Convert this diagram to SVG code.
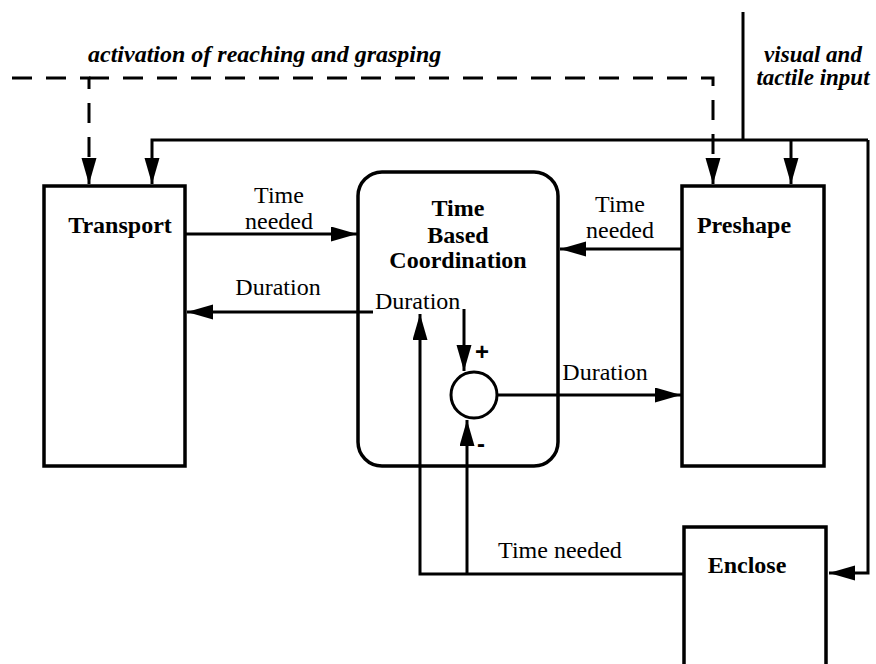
<svg xmlns="http://www.w3.org/2000/svg" width="876" height="664" viewBox="0 0 876 664">
<defs>
<marker id="ah" markerUnits="userSpaceOnUse" markerWidth="27" markerHeight="16" refX="26" refY="7.5" orient="auto">
<path d="M0,0 L26,7.5 L0,15 Z" fill="#000"/>
</marker>
<style>
.box{fill:#fff;stroke:#000;stroke-width:3.5}
.ln{fill:none;stroke:#000;stroke-width:3}
.dash{fill:none;stroke:#000;stroke-width:3;stroke-dasharray:20 14}
.t{font-family:"Liberation Serif",serif;font-size:24px;fill:#000}
.b{font-family:"Liberation Serif",serif;font-size:24px;font-weight:bold;fill:#000}
.bi{font-family:"Liberation Serif",serif;font-size:24px;font-weight:bold;font-style:italic;fill:#000}
.s{font-family:"Liberation Sans",sans-serif;font-size:24px;font-weight:bold;fill:#000}
</style>
</defs>
<rect width="876" height="664" fill="#fff"/>
<g id="connectors">
<path class="dash" d="M12,78 H89 V184" marker-end="url(#ah)"/>
<path class="dash" d="M89,78 H713 V184" marker-end="url(#ah)"/>
<path class="ln" d="M743,12 V140"/>
<path class="ln" d="M868,140 H152 V184" marker-end="url(#ah)"/>
<path class="ln" d="M791,140 V184" marker-end="url(#ah)"/>
<path class="ln" d="M868,140 V573 H829" marker-end="url(#ah)"/>
<path class="ln" d="M185,234 H357" marker-end="url(#ah)"/>
<path class="ln" d="M682,249 H560" marker-end="url(#ah)"/>
<path class="ln" d="M373,312 H187" marker-end="url(#ah)"/>
<path class="ln" d="M464,309 V371" marker-end="url(#ah)"/>
<path class="ln" d="M497,395 H681" marker-end="url(#ah)"/>
<path class="ln" d="M684,574 H420 V314" marker-end="url(#ah)"/>
<path class="ln" d="M467,574 V420" marker-end="url(#ah)"/>
</g>
<g id="transport">
<rect class="box" x="44" y="186" width="141" height="280"/>
<text class="b" x="120" y="233" text-anchor="middle">Transport</text>
</g>
<g id="preshape">
<rect class="box" x="682" y="186" width="142" height="280"/>
<text class="b" x="744" y="233" text-anchor="middle">Preshape</text>
</g>
<g id="enclose">
<path class="box" d="M684,666 V527 H826 V666"/>
<text class="b" x="747" y="573" text-anchor="middle">Enclose</text>
</g>
<g id="coordination">
<rect x="358" y="172" width="200" height="294" rx="24" ry="24" fill="none" stroke="#000" stroke-width="3.5"/>
<text class="b" x="458" y="216" text-anchor="middle">Time</text>
<text class="b" x="458" y="243" text-anchor="middle">Based</text>
<text class="b" x="458" y="268" text-anchor="middle">Coordination</text>
<text class="t" x="375" y="309">Duration</text>
</g>
<g id="sum">
<circle cx="474" cy="395" r="23" fill="#fff" stroke="#000" stroke-width="3"/>
<text class="s" x="482" y="360" text-anchor="middle">+</text>
<text class="s" x="481" y="452" text-anchor="middle">-</text>
</g>
<g id="labels">
<text class="bi" x="88" y="62">activation of reaching and grasping</text>
<text class="bi" x="813" y="62" text-anchor="middle" style="font-size:23px">visual and</text>
<text class="bi" x="813" y="85" text-anchor="middle" style="font-size:23px">tactile input</text>
<text class="t" x="279" y="203" text-anchor="middle">Time</text>
<text class="t" x="279" y="229" text-anchor="middle">needed</text>
<text class="t" x="620" y="212" text-anchor="middle">Time</text>
<text class="t" x="620" y="238" text-anchor="middle">needed</text>
<text class="t" x="278" y="295" text-anchor="middle">Duration</text>
<text class="t" x="605" y="380" text-anchor="middle">Duration</text>
<text class="t" x="560" y="558" text-anchor="middle">Time needed</text>
</g>
</svg>
